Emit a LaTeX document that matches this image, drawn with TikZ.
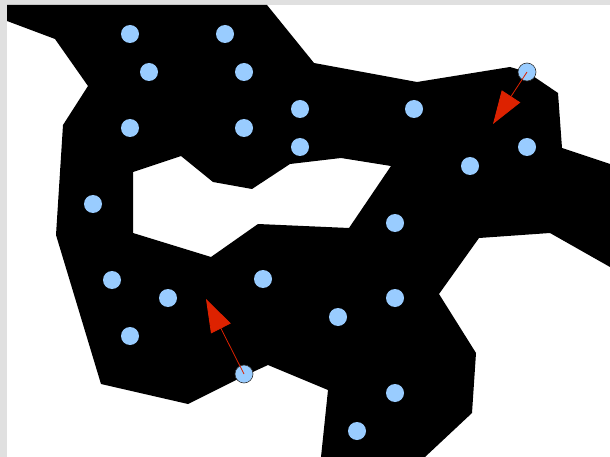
\documentclass[tikz,border=0pt]{standalone}
\usetikzlibrary{arrows.meta}
\definecolor{dot}{RGB}{153,204,255}
\definecolor{arrowred}{RGB}{221,34,0}
\definecolor{frame}{RGB}{224,224,224}
\tikzset{
  dotnode/.style={circle,fill=dot,inner sep=0pt,minimum size=18pt},
  outlined/.style={dotnode,draw=black!80,line width=0.6pt},
  redarrow/.style={draw=arrowred,line width=0.8pt,-{Triangle[length=33pt,width=22pt,fill=arrowred]}}
}
\begin{document}
\begin{tikzpicture}[x=1pt,y=-1pt]
\useasboundingbox (0,0) rectangle (610,457);
\fill[frame] (0,0) rectangle (610,457);
\fill[white] (7,5) rectangle (610,457);
\fill[black,even odd rule]
  (7,5) -- (267,5) -- (314,63) -- (417,82) -- (510,67) -- (527,72) -- (558,93) -- (562,148) -- (610,164)
  -- (610,267) -- (550,233) -- (479,238) -- (439,294) -- (476,353) -- (472,413) -- (425,457)
  -- (321,457) -- (328,390) -- (268,365) -- (244,376) -- (188,404) -- (101,384) -- (56,235)
  -- (63,125) -- (88,86) -- (55,39) -- (7,21) -- cycle
  (133,172) -- (181,156) -- (213,182) -- (252,189) -- (290,164) -- (341,158) -- (391,166)
  -- (349,228) -- (258,224) -- (211,257) -- (133,233) -- cycle;
\node[dotnode] (c1) at (130,34) {};
\node[dotnode] (c2) at (225,34) {};
\node[dotnode] (c3) at (149,72) {};
\node[dotnode] (c4) at (244,72) {};
\node[dotnode] (c5) at (130,128) {};
\node[dotnode] (c6) at (244,128) {};
\node[dotnode] (c7) at (300,109) {};
\node[dotnode] (c8) at (300,147) {};
\node[dotnode] (c9) at (414,109) {};
\node[outlined] (c10) at (527,72) {};
\node[dotnode] (c11) at (470,166) {};
\node[dotnode] (c12) at (527,147) {};
\node[dotnode] (c13) at (93,204) {};
\node[dotnode] (c14) at (395,223) {};
\node[dotnode] (c15) at (112,280) {};
\node[dotnode] (c16) at (168,298) {};
\node[dotnode] (c17) at (263,279) {};
\node[dotnode] (c18) at (395,298) {};
\node[dotnode] (c19) at (338,317) {};
\node[dotnode] (c20) at (130,336) {};
\node[outlined] (c21) at (244,374) {};
\node[dotnode] (c22) at (395,393) {};
\node[dotnode] (c23) at (357,431) {};
\coordinate (t1) at (493,124);
\coordinate (t2) at (206,299);
\draw[redarrow] (c10.center) -- (t1);
\draw[redarrow] (c21.center) -- (t2);
\end{tikzpicture}
\end{document}
